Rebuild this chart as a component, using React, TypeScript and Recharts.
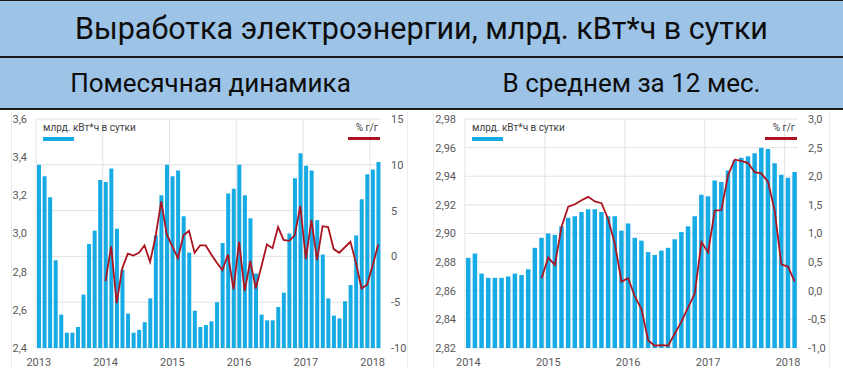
import { ComposedChart, Bar, Line, XAxis, YAxis, CartesianGrid } from "recharts";

// monthly output, bn kWh per day, Jan 2013 – Feb 2018
const monthlyOutput = [
  3.36, 3.3, 3.19, 2.86, 2.575, 2.48, 2.48, 2.51, 2.68, 2.945, 3.015, 3.28,
  3.27, 3.34, 3.025, 2.81, 2.58, 2.48, 2.495, 2.535, 2.66, 2.99, 3.2, 3.36,
  3.3, 3.33, 3.09, 2.9, 2.595, 2.51, 2.52, 2.54, 2.64, 2.95, 3.21, 3.235,
  3.36, 3.2, 3.08, 2.79, 2.575, 2.545, 2.545, 2.615, 2.69, 3.0, 3.29, 3.42,
  3.355, 3.33, 3.07, 2.89, 2.66, 2.57, 2.555, 2.645, 2.73, 2.99, 3.18, 3.31,
  3.335, 3.375,
];
// % y/y, Jan 2014 – Feb 2018
const monthlyYoY = [
  -2.7, 1.1, -5.1, -1.3, 0.3, 0.1, 0.4, 1.2, -0.6, 2.2, 6.0, 2.4,
  1.1, -0.2, 2.3, 2.8, 0.4, 1.2, 1.2, 0.2, -0.7, -1.5, 0.2, -3.6,
  1.6, -3.8, -0.5, -3.5, -1.1, 1.3, 0.9, 3.2, 1.8, 1.7, 2.3, 5.5,
  -0.3, 4.0, -0.4, 3.3, 3.2, 0.8, 0.4, 1.0, 1.6, -0.7, -3.5, -3.1,
  -1.0, 1.3,
];

// 12-month average, Jan 2014 – Feb 2018
const avgOutput = [
  2.883, 2.886, 2.872, 2.869, 2.869, 2.869, 2.87, 2.872, 2.871, 2.875, 2.89, 2.897,
  2.9, 2.899, 2.905, 2.911, 2.912, 2.915, 2.917, 2.917, 2.915, 2.912, 2.912, 2.902,
  2.907, 2.897, 2.895, 2.887, 2.885, 2.888, 2.89, 2.896, 2.901, 2.905, 2.912, 2.927,
  2.926, 2.937, 2.936, 2.944, 2.951, 2.953, 2.954, 2.956, 2.96, 2.959, 2.949, 2.941,
  2.939, 2.943,
];
// % y/y of the average, Dec 2014 – Feb 2018
const avgYoY = [
  0.22,
  0.58, 0.45, 1.12, 1.47, 1.51, 1.58, 1.64, 1.56, 1.53, 1.25, 0.82, 0.16,
  0.22, -0.1, -0.32, -0.87, -0.96, -0.95, -0.96, -0.75, -0.54, -0.29, -0.05, 0.85,
  0.67, 1.4, 1.41, 2.02, 2.29, 2.27, 2.23, 2.07, 2.05, 1.9, 1.4, 0.46,
  0.42, 0.16,
];

const monthlyLeftTicks = [2.4, 2.6, 2.8, 3.0, 3.2, 3.4, 3.6];
const monthlyRightTicks = [-10, -5, 0, 5, 10, 15];
const avgLeftTicks = [2.82, 2.84, 2.86, 2.88, 2.9, 2.92, 2.94, 2.96, 2.98];
const avgRightTicks = [-1, -0.5, 0, 0.5, 1, 1.5, 2, 2.5, 3];

const BAR = "#17abe6";
const LINE = "#ad1420";
const TICK = "#595959";
const FONT = "Roboto, 'Noto Sans', sans-serif";

const buildData = (startYear: number, output: number[], yoy: number[]) => {
  const lead = output.length - yoy.length;
  return output.map((v, i) => ({
    m: `${startYear + Math.floor(i / 12)}-${(i % 12) + 1}`,
    output: v,
    yoy: i >= lead ? yoy[i - lead] : null,
  }));
};

const monthlyData = buildData(2013, monthlyOutput, monthlyYoY);
const avgData = buildData(2014, avgOutput, avgYoY);

const comma = (d: number) => (v: number) => v.toFixed(d).replace(".", ",");
const yearOnly = (m: string) => (m.endsWith("-1") ? m.split("-")[0] : "");

interface PanelProps {
  data: { m: string; output: number; yoy: number | null }[];
  left: number;
  width: number;
  leftW: number;
  rightW: number;
  leftTicks: number[];
  rightTicks: number[];
  leftFmt: (v: number) => string;
  rightFmt: (v: number) => string;
  barSize: number;
}

const Panel = (p: PanelProps) => {
  const n = p.data.length;
  const yearLines = ({ offset }: any) => {
    const out: number[] = [];
    for (let k = 0; k * 12 < n; k++) out.push(offset.left + (offset.width * k * 12) / n);
    return out;
  };
  const tick = { fill: TICK, fontSize: 11, fontFamily: FONT };
  return (
    <div style={{ position: "absolute", left: p.left, top: 110, width: p.width, height: 258 }}>
      <ComposedChart
        width={p.width}
        height={258}
        data={p.data}
        margin={{ top: 9, right: 0, bottom: 0, left: 0 }}
        barCategoryGap={0}
      >
        <CartesianGrid
          stroke="#e3e3e3"
          yAxisId="r"
          verticalCoordinatesGenerator={yearLines}
        />
        <XAxis
          dataKey="m"
          interval={0}
          tickFormatter={yearOnly}
          tick={tick}
          tickLine={false}
          axisLine={false}
          tickSize={0}
          tickMargin={10}
          height={20}
        />
        <YAxis
          yAxisId="l"
          domain={[p.leftTicks[0], p.leftTicks[p.leftTicks.length - 1]]}
          ticks={p.leftTicks}
          interval={0}
          tickFormatter={p.leftFmt}
          tick={tick}
          tickLine={false}
          axisLine={false}
          tickSize={0}
          tickMargin={9}
          width={p.leftW}
        />
        <YAxis
          yAxisId="r"
          orientation="right"
          domain={[p.rightTicks[0], p.rightTicks[p.rightTicks.length - 1]]}
          ticks={p.rightTicks}
          interval={0}
          tickFormatter={p.rightFmt}
          tick={tick}
          tickLine={false}
          axisLine={false}
          tickSize={0}
          tickMargin={10}
          width={p.rightW}
        />
        <Bar yAxisId="l" dataKey="output" fill={BAR} barSize={p.barSize} isAnimationActive={false} />
        <Line
          yAxisId="r"
          dataKey="yoy"
          stroke={LINE}
          strokeWidth={1.8}
          dot={false}
          isAnimationActive={false}
        />
      </ComposedChart>
      <div style={{ position: "absolute", left: p.leftW + 7, top: 12, font: `10px ${FONT}`, color: "#404040" }}>
        млрд. кВт*ч в сутки
      </div>
      <div style={{ position: "absolute", left: p.leftW + 7, top: 27, width: 31, height: 4, background: BAR }} />
      <div
        style={{
          position: "absolute",
          right: p.rightW + 3,
          top: 12,
          font: `10px ${FONT}`,
          color: "#404040",
        }}
      >
        % г/г
      </div>
      <div style={{ position: "absolute", right: p.rightW + 1, top: 27, width: 32, height: 2.5, background: LINE }} />
    </div>
  );
};

const App = () => {
  return (
    <div
      style={{
        position: "fixed",
        left: 0,
        top: 0,
        width: 843,
        height: 368,
        background: "#fff",
        overflow: "hidden",
        fontFamily: FONT,
      }}
    >
      <div
        style={{
          position: "absolute",
          left: 0,
          top: 0,
          width: 843,
          height: 110,
          background: "#9dc3e6",
          borderTop: "1px solid #1a1a1a",
          borderBottom: "2px solid #1a1a1a",
          boxSizing: "border-box",
        }}
      />
      <div style={{ position: "absolute", left: 0, top: 56, width: 843, height: 2, background: "#1a1a1a" }} />
      <div
        style={{
          position: "absolute",
          left: 0,
          top: 1,
          width: 843,
          height: 55,
          lineHeight: "55px",
          textAlign: "center",
          fontSize: 30.5,
          color: "#0d0d0d",
        }}
      >
        Выработка электроэнергии, млрд. кВт*ч в сутки
      </div>
      <div
        style={{
          position: "absolute",
          left: 0,
          top: 58,
          width: 421,
          height: 50,
          lineHeight: "50px",
          textAlign: "center",
          fontSize: 26,
          color: "#0d0d0d",
        }}
      >
        Помесячная динамика
      </div>
      <div
        style={{
          position: "absolute",
          left: 421,
          top: 58,
          width: 421,
          height: 50,
          lineHeight: "50px",
          textAlign: "center",
          fontSize: 26,
          color: "#0d0d0d",
        }}
      >
        В среднем за 12 мес.
      </div>
      <div style={{ position: "absolute", left: 11, top: 111, width: 395, height: 257, border: "1px solid #ececec", borderTop: "none" }} />
      <div style={{ position: "absolute", left: 433, top: 111, width: 395, height: 257, border: "1px solid #ececec", borderTop: "none" }} />
      <Panel
        data={monthlyData}
        left={0}
        width={420}
        leftW={36}
        rightW={39}
        leftTicks={monthlyLeftTicks}
        rightTicks={monthlyRightTicks}
        leftFmt={comma(1)}
        rightFmt={comma(0)}
        barSize={4}
      />
      <Panel
        data={avgData}
        left={420}
        width={423}
        leftW={45}
        rightW={45}
        leftTicks={avgLeftTicks}
        rightTicks={avgRightTicks}
        leftFmt={comma(2)}
        rightFmt={comma(1)}
        barSize={4.5}
      />
    </div>
  );
};

export default App;
